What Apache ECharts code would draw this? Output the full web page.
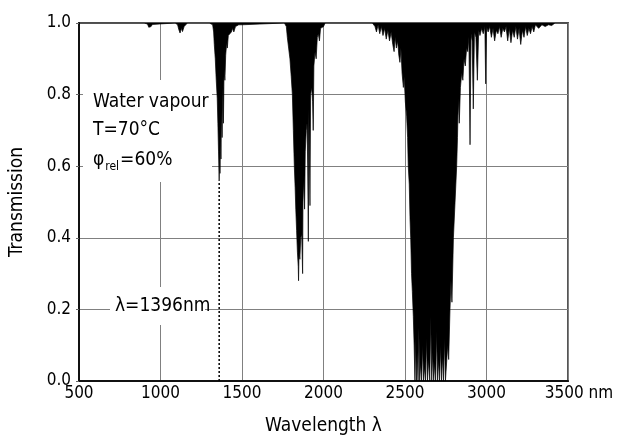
<!DOCTYPE html>
<html>
<head>
<meta charset="utf-8">
<script src="https://cdn.jsdelivr.net/npm/echarts@6/dist/echarts.min.js"></script>
<style>html,body{margin:0;padding:0;background:#fff}#c{width:618px;height:441px}</style>
</head>
<body>
<div id="c"></div>
<script>
// Wavelength (nm) / transmission pairs, band by band
const bandNIR1 = [[500,1],[900,1],[920,0.997],[928,0.988],[935,0.985],[942,0.99],[950,0.996],[960,1]];
const bandNIR2 = [[1090,1],[1105,0.995],[1112,0.982],[1120,0.972],[1128,0.985],[1135,0.976],[1145,0.99],[1155,0.986],[1165,1]];
const band1400 = [[1300,1],[1320,0.995],[1326,0.975],[1330,0.94],[1336,0.90],[1342,0.84],[1348,0.79],[1352,0.72],[1356,0.64],[1360,0.56],[1363,0.64],[1365,0.58],[1368,0.70],[1371,0.62],[1374,0.76],[1378,0.68],[1382,0.82],[1386,0.72],[1390,0.87],[1395,0.84],[1400,0.91],[1406,0.945],[1410,0.93],[1416,0.965],[1422,0.97],[1428,0.96],[1435,0.975],[1442,0.985],[1450,0.975],[1460,0.99],[1470,0.985],[1480,0.995],[1490,0.99],[1500,0.995],[1510,1]];
const band1900 = [[1760,1],[1772,0.99],[1778,0.96],[1786,0.93],[1794,0.90],[1802,0.85],[1809,0.80],[1815,0.70],[1821,0.60],[1826,0.54],[1830,0.48],[1835,0.42],[1840,0.36],[1845,0.32],[1847,0.28],[1850,0.36],[1855,0.34],[1860,0.40],[1866,0.41],[1872,0.30],[1874,0.50],[1878,0.56],[1884,0.48],[1888,0.64],[1894,0.70],[1899,0.72],[1903,0.60],[1907,0.39],[1910,0.76],[1917,0.49],[1921,0.80],[1928,0.82],[1933,0.78],[1937,0.70],[1941,0.88],[1948,0.92],[1955,0.90],[1962,0.96],[1968,0.97],[1975,0.95],[1982,0.985],[1990,0.98],[2000,0.99],[2010,1]];
const band2700 = [[2300,1],[2316,0.99],[2325,0.975],[2335,0.995],[2345,0.97],[2355,0.99],[2365,0.965],[2375,0.985],[2385,0.955],[2395,0.98],[2405,0.95],[2415,0.975],[2425,0.94],[2433,0.92],[2440,0.96],[2447,0.93],[2455,0.95],[2462,0.91],[2469,0.89],[2475,0.93],[2482,0.86],[2490,0.82],[2495,0.85],[2502,0.78],[2510,0.74],[2516,0.68],[2520,0.60],[2526,0.55],[2531,0.45],[2535,0.40],[2540,0.30],[2545,0.25],[2551,0.18],[2556,0.10],[2561,0],[2566,0.12],[2570,0],[2575,0.08],[2580,0],[2585,0.15],[2590,0],[2596,0.05],[2602,0],[2608,0.10],[2614,0],[2620,0.04],[2626,0],[2632,0.12],[2638,0],[2645,0.06],[2652,0],[2658,0.18],[2664,0],[2670,0.08],[2676,0],[2682,0.05],[2688,0],[2694,0.14],[2700,0],[2706,0.06],[2712,0],[2718,0.10],[2724,0],[2730,0.07],[2736,0],[2742,0.12],[2748,0],[2756,0],[2762,0.10],[2768,0.06],[2776,0.20],[2782,0.28],[2788,0.22],[2797,0.40],[2805,0.48],[2812,0.55],[2817,0.60],[2822,0.68],[2827,0.79],[2833,0.72],[2840,0.82],[2848,0.86],[2855,0.84],[2862,0.90],[2870,0.88],[2878,0.93],[2885,0.92],[2892,0.96],[2899,0.66],[2905,0.97],[2912,0.95],[2919,0.76],[2926,0.975],[2935,0.96],[2944,0.84],[2952,0.98],[2960,0.965],[2970,0.985],[2980,0.97],[2990,0.99],[2995,0.83],[3000,0.99],[3010,0.975],[3020,0.99],[3030,0.96],[3040,0.985],[3050,0.95],[3060,0.98],[3070,0.97],[3080,0.99],[3090,0.96],[3100,0.985],[3110,0.975],[3120,0.99],[3130,0.95],[3140,0.985],[3150,0.945],[3160,0.98],[3170,0.96],[3180,0.99],[3190,0.955],[3200,0.985],[3210,0.94],[3220,0.98],[3230,0.96],[3240,0.99],[3250,0.965],[3260,0.985],[3270,0.97],[3280,0.99],[3290,0.975],[3300,0.995],[3320,0.985],[3340,0.995],[3360,0.99],[3380,0.995],[3400,0.993],[3420,1],[3500,1]];
const markerLine = [[1360,0],[1360,0.56]];
const xTicks = [500,1000,1500,2000,2500,3000,3500];
const yTicks = [0,0.2,0.4,0.6,0.8,1.0];

const spectrum = [].concat(bandNIR1, bandNIR2, band1400, band1900, band2700);
const FONT = "'DejaVu Sans Condensed','DejaVu Sans',sans-serif";
const NUMFONT = "'DejaVu Sans Condensed','DejaVu Sans',sans-serif";
const xMax = xTicks[xTicks.length-1];

const chart = echarts.init(document.getElementById('c'), null, {renderer:'canvas'});
chart.setOption({
  animation:false,
  backgroundColor:'#fff',
  grid:{left:79, top:23, width:489, height:358, containLabel:false, outerBoundsMode:'none',
        show:true, borderColor:'#555', borderWidth:2, backgroundColor:'transparent'},
  xAxis:{
    type:'value', min:xTicks[0], max:xMax, interval:500,
    name:'Wavelength λ', nameLocation:'middle', nameGap:36,
    nameTextStyle:{fontFamily:FONT, fontSize:19, color:'#000'},
    axisLine:{lineStyle:{color:'#111', width:2}},
    axisTick:{show:false},
    axisLabel:{fontFamily:NUMFONT, fontSize:17, color:'#000', margin:4,
      formatter:v=> v===xMax ? '{m|'+v+' nm}' : String(v),
      rich:{m:{fontFamily:NUMFONT, fontSize:17, color:'#000', padding:[0,0,0,22]}}},
    splitLine:{show:true, lineStyle:{color:'#808080', width:1}}
  },
  yAxis:{
    type:'value', min:yTicks[0], max:yTicks[yTicks.length-1], interval:0.2,
    name:'Transmission', nameLocation:'middle', nameGap:52,
    nameTextStyle:{fontFamily:FONT, fontSize:19, color:'#000'},
    axisLine:{show:true, lineStyle:{color:'#111', width:2}},
    axisTick:{show:true, length:3, lineStyle:{color:'#666'}},
    axisLabel:{fontFamily:NUMFONT, fontSize:17, color:'#000', margin:8, formatter:v=>v.toFixed(1)},
    splitLine:{show:true, lineStyle:{color:'#808080', width:1}}
  },
  series:[
    {type:'line', data:spectrum, symbol:'none', z:3,
     lineStyle:{color:'#000', width:0.7},
     areaStyle:{color:'#000', origin:'end', opacity:1}},
    {type:'line', data:markerLine, symbol:'none', z:4,
     lineStyle:{color:'#000', width:1.5, type:[2,2]}}
  ],
  graphic:[
    {type:'rect', z:100, shape:{x:83, y:80, width:129, height:102}, style:{fill:'#fff'}},
    {type:'rect', z:100, shape:{x:110, y:287, width:95, height:38}, style:{fill:'#fff'}},
    {type:'text', z:101, x:93, y:102.5, style:{text:'Water vapour', font:'19px '+FONT, fill:'#000', textVerticalAlign:'middle'}},
    {type:'text', z:101, x:93, y:130, style:{text:'T=70°C', font:'19px '+FONT, fill:'#000', textVerticalAlign:'middle'}},
    {type:'text', z:101, x:93, y:160, style:{text:'{a|φ}{s|rel}{a|=60%}', fill:'#000', textVerticalAlign:'middle',
      rich:{a:{fontFamily:FONT, fontSize:19, lineHeight:26, verticalAlign:'middle'}, s:{fontFamily:FONT, fontSize:12, lineHeight:26, verticalAlign:'bottom', padding:[0,1,0,1]}}}},
    {type:'text', z:101, x:115, y:306, style:{text:'λ=1396nm', font:'19px '+FONT, fill:'#000', textVerticalAlign:'middle'}}
  ]
});
</script>
</body>
</html>
